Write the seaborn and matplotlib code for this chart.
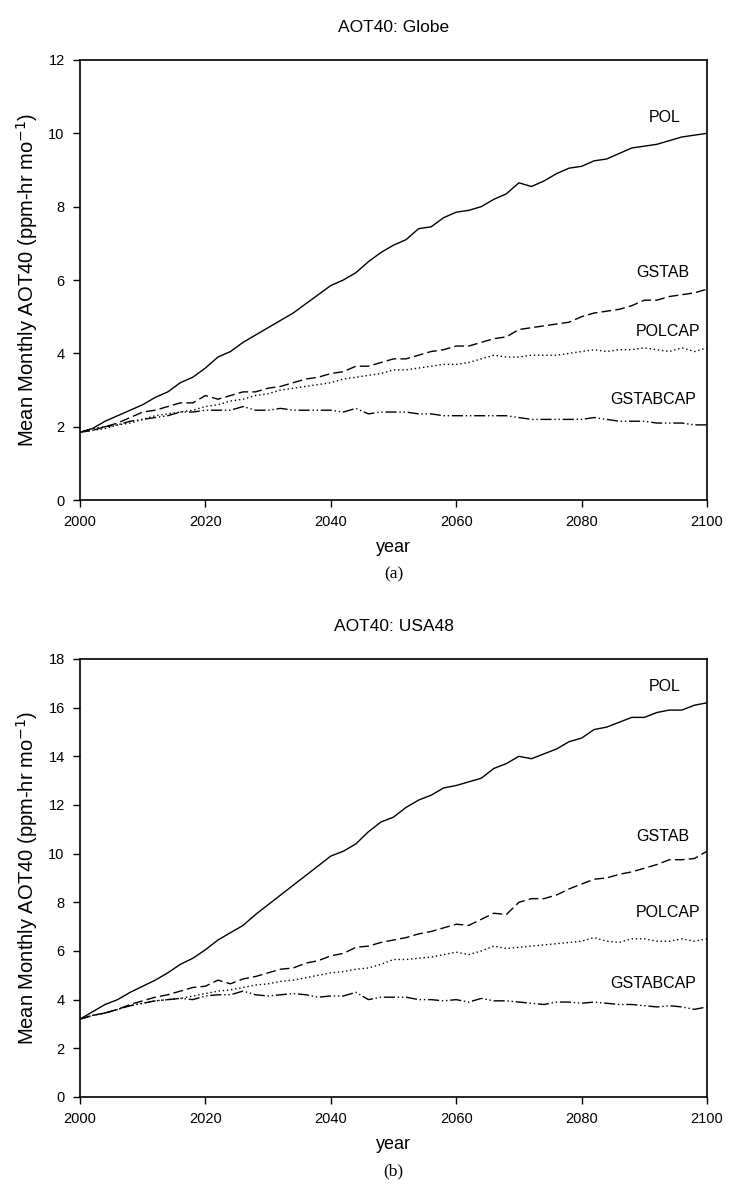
import numpy as np
import pandas as pd
import matplotlib
matplotlib.use("Agg")
import matplotlib.pyplot as plt
import seaborn as sns

years = list(range(2000, 2101, 2))
scenarios = ["POL", "GSTAB", "POLCAP", "GSTABCAP"]

globe_pol = [1.85, 1.95, 2.15, 2.3, 2.45, 2.6, 2.8, 2.95, 3.2, 3.35, 3.6, 3.9, 4.05, 4.3, 4.5, 4.7,
             4.9, 5.1, 5.35, 5.6, 5.85, 6.0, 6.2, 6.5, 6.75, 6.95, 7.1, 7.4, 7.45, 7.7, 7.85, 7.9,
             8.0, 8.2, 8.35, 8.65, 8.55, 8.7, 8.9, 9.05, 9.1, 9.25, 9.3, 9.45, 9.6, 9.65, 9.7, 9.8,
             9.9, 9.95, 10.0]
globe_gstab = [1.85, 1.9, 2.0, 2.1, 2.25, 2.4, 2.45, 2.55, 2.65, 2.65, 2.85, 2.75, 2.85, 2.95, 2.95,
               3.05, 3.1, 3.2, 3.3, 3.35, 3.45, 3.5, 3.65, 3.65, 3.75, 3.85, 3.85, 3.95, 4.05, 4.1,
               4.2, 4.2, 4.3, 4.4, 4.45, 4.65, 4.7, 4.75, 4.8, 4.85, 5.0, 5.1, 5.15, 5.2, 5.3, 5.45,
               5.45, 5.55, 5.6, 5.65, 5.75]
globe_polcap = [1.85, 1.9, 1.95, 2.05, 2.1, 2.2, 2.3, 2.35, 2.4, 2.45, 2.55, 2.6, 2.7, 2.75, 2.85,
                2.9, 3.0, 3.05, 3.1, 3.15, 3.2, 3.3, 3.35, 3.4, 3.45, 3.55, 3.55, 3.6, 3.65, 3.7,
                3.7, 3.75, 3.85, 3.95, 3.9, 3.9, 3.95, 3.95, 3.95, 4.0, 4.05, 4.1, 4.05, 4.1, 4.1,
                4.15, 4.1, 4.05, 4.15, 4.05, 4.15]
globe_gstabcap = [1.85, 1.95, 2.0, 2.05, 2.15, 2.2, 2.25, 2.3, 2.4, 2.4, 2.45, 2.45, 2.45, 2.55, 2.45,
                  2.45, 2.5, 2.45, 2.45, 2.45, 2.45, 2.4, 2.5, 2.35, 2.4, 2.4, 2.4, 2.35, 2.35, 2.3,
                  2.3, 2.3, 2.3, 2.3, 2.3, 2.25, 2.2, 2.2, 2.2, 2.2, 2.2, 2.25, 2.2, 2.15, 2.15,
                  2.15, 2.1, 2.1, 2.1, 2.05, 2.05]

usa_pol = [3.2, 3.5, 3.8, 4.0, 4.3, 4.55, 4.8, 5.1, 5.45, 5.7, 6.05, 6.45, 6.75, 7.05, 7.5, 7.9,
           8.3, 8.7, 9.1, 9.5, 9.9, 10.1, 10.4, 10.9, 11.3, 11.5, 11.9, 12.2, 12.4, 12.7, 12.8,
           12.95, 13.1, 13.5, 13.7, 14.0, 13.9, 14.1, 14.3, 14.6, 14.75, 15.1, 15.2, 15.4, 15.6,
           15.6, 15.8, 15.9, 15.9, 16.1, 16.2]
usa_gstab = [3.2, 3.35, 3.45, 3.6, 3.8, 3.95, 4.1, 4.2, 4.35, 4.5, 4.55, 4.8, 4.65, 4.85, 4.95,
             5.1, 5.25, 5.3, 5.5, 5.6, 5.8, 5.9, 6.15, 6.2, 6.35, 6.45, 6.55, 6.7, 6.8, 6.95, 7.1,
             7.05, 7.3, 7.55, 7.5, 8.0, 8.15, 8.15, 8.3, 8.55, 8.75, 8.95, 9.0, 9.15, 9.25, 9.4,
             9.55, 9.75, 9.75, 9.8, 10.1]
usa_polcap = [3.2, 3.35, 3.45, 3.6, 3.75, 3.85, 3.95, 4.0, 4.05, 4.15, 4.25, 4.35, 4.4, 4.5, 4.6,
              4.65, 4.75, 4.8, 4.9, 5.0, 5.1, 5.15, 5.25, 5.3, 5.45, 5.65, 5.65, 5.7, 5.75, 5.85,
              5.95, 5.85, 6.0, 6.2, 6.1, 6.15, 6.2, 6.25, 6.3, 6.35, 6.4, 6.55, 6.4, 6.35, 6.5,
              6.5, 6.4, 6.4, 6.5, 6.4, 6.5]
usa_gstabcap = [3.2, 3.35, 3.45, 3.6, 3.75, 3.85, 3.95, 4.0, 4.05, 4.0, 4.15, 4.2, 4.2, 4.35, 4.2,
                4.15, 4.2, 4.25, 4.2, 4.1, 4.15, 4.15, 4.3, 4.0, 4.1, 4.1, 4.1, 4.0, 4.0, 3.95, 4.0,
                3.9, 4.05, 3.95, 3.95, 3.9, 3.85, 3.8, 3.9, 3.9, 3.85, 3.9, 3.85, 3.8, 3.8, 3.75,
                3.7, 3.75, 3.7, 3.6, 3.7]

panel_titles = ["AOT40: Globe", "AOT40: USA48"]
panel_tags = ["(a)", "(b)"]
y_limits = [12, 18]

sns.set_theme(style="ticks")
plt.rcParams['font.family'] = ['Liberation Sans', 'DejaVu Sans']
plt.rcParams['text.color'] = 'black'
plt.rcParams['axes.labelcolor'] = 'black'

def make_df(series):
    frames = []
    for name, vals in zip(scenarios, series):
        frames.append(pd.DataFrame({"year": years, "value": vals, "scenario": name}))
    return pd.concat(frames, ignore_index=True)

dfs = [make_df([globe_pol, globe_gstab, globe_polcap, globe_gstabcap]),
       make_df([usa_pol, usa_gstab, usa_polcap, usa_gstabcap])]

label_pos = [
    {"POL": (2093.3, 10.42), "GSTAB": (2093.0, 6.2), "POLCAP": (2093.8, 4.6), "GSTABCAP": (2091.4, 2.73)},
    {"POL": (2093.3, 16.85), "GSTAB": (2093.0, 10.7), "POLCAP": (2093.8, 7.6), "GSTABCAP": (2091.4, 4.65)},
]

dash_map = {"POL": "", "GSTAB": (7, 3), "POLCAP": (1, 2), "GSTABCAP": (8, 2, 1, 2, 1, 2)}

fig = plt.figure(figsize=(7.36, 11.85), dpi=100)
ax_rects = [[0.1087, 0.578, 0.8519, 0.3714], [0.1087, 0.0743, 0.8519, 0.3696]]

for i in range(2):
    ax = fig.add_axes(ax_rects[i])
    sns.lineplot(data=dfs[i], x="year", y="value", style="scenario", dashes=dash_map,
                 color="black", linewidth=1.0, legend=False, ax=ax)
    ax.set_xlim(2000, 2100)
    ax.set_ylim(0, y_limits[i])
    ax.set_xticks(range(2000, 2101, 20))
    ax.set_yticks(range(0, y_limits[i] + 1, 2))
    ax.tick_params(axis='both', direction='out', length=5, width=1, labelsize=10.5,
                   colors='black', pad=6)
    for s in ax.spines.values():
        s.set_linewidth(1.2)
        s.set_color('black')
        s.set_visible(True)
    ax.set_xlabel("year", fontsize=13, labelpad=7)
    ax.set_ylabel("Mean Monthly AOT40 (ppm-hr mo$^{-1}$)", fontsize=14.5, labelpad=6)
    ax.set_title(panel_titles[i], fontsize=12.5, pad=20)
    for name, (lx, ly) in label_pos[i].items():
        ax.text(lx, ly, name, ha='center', va='center', fontsize=11.5)
    ax.text(0.5, -0.17, panel_tags[i], transform=ax.transAxes, ha='center', va='center',
            fontsize=12.5, family=['Liberation Serif', 'DejaVu Serif'])

fig.savefig("out.png", dpi=100)
